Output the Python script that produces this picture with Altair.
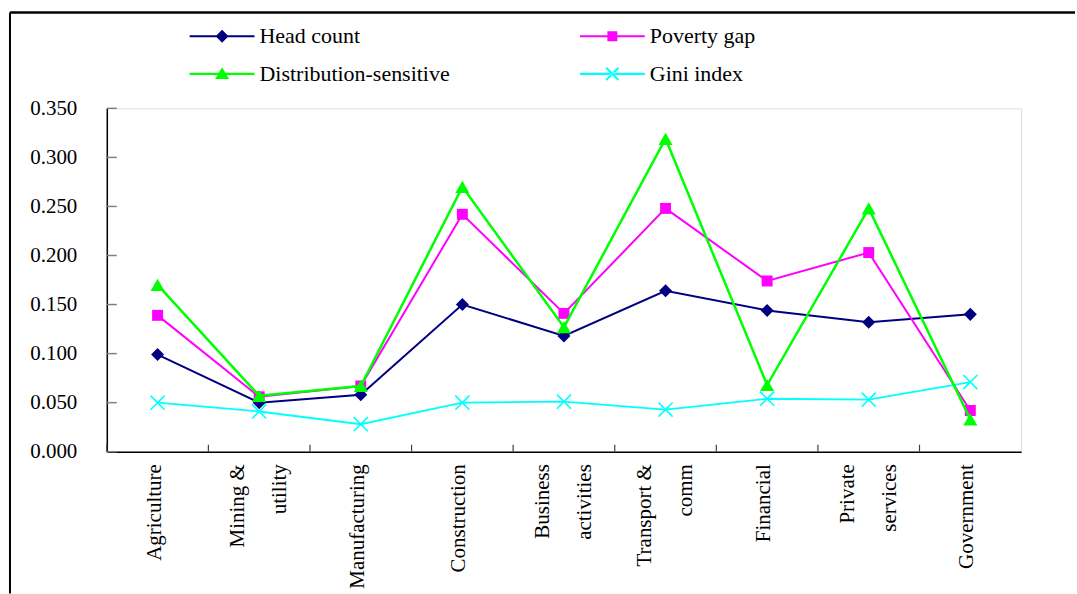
import altair as alt
import pandas as pd

categories = ["Agriculture", "Mining &|utility", "Manufacturing", "Construction",
              "Business|activities", "Transport &|comm", "Financial",
              "Private|services", "Government"]
series_names = ["Head count", "Poverty gap", "Distribution-sensitive", "Gini index"]
head_count = [0.099, 0.050, 0.058, 0.150, 0.118, 0.164, 0.144, 0.132, 0.140]
poverty_gap = [0.139, 0.056, 0.067, 0.242, 0.141, 0.248, 0.174, 0.203, 0.042]
dist_sensitive = [0.170, 0.057, 0.067, 0.270, 0.127, 0.319, 0.068, 0.248, 0.033]
gini_index = [0.050, 0.041, 0.028, 0.050, 0.051, 0.043, 0.054, 0.053, 0.071]
y_ticks = [0.0, 0.05, 0.10, 0.15, 0.20, 0.25, 0.30, 0.35]

colors = ["#000080", "#FF00FF", "#00FF00", "#00FFFF"]
values = [head_count, poverty_gap, dist_sensitive, gini_index]

W, H = 916, 344
FONT = "Liberation Serif"

x_enc = alt.X("cat:N", sort=categories,
              scale=alt.Scale(type="band", paddingInner=0, paddingOuter=0),
              axis=alt.Axis(title=None, labelExpr="split(datum.label, '|')",
                            labelAngle=270, labelAlign="right", labelBaseline="middle",
                            labelPadding=12, labelFont=FONT, labelFontSize=21,
                            labelLineHeight=42, labelColor="black", labelLimit=400,
                            labelOffset={"condition": {"test": "indexof(datum.value, '|') >= 0",
                                                       "value": -21}, "value": -3},
                            ticks=False, domainColor="black", domainWidth=1.5))
y_enc = alt.Y("v:Q", scale=alt.Scale(domain=[0, 0.35], nice=False),
              axis=alt.Axis(title=None, values=y_ticks, format=".3f", grid=False,
                            ticks=False, labelPadding=30, labelFont=FONT,
                            labelFontSize=21, labelColor="black",
                            domainColor="black", domainWidth=1.5))

frames = []
for name, vals in zip(series_names, values):
    frames.append(pd.DataFrame({"cat": categories, "v": vals, "series": name}))
df = pd.concat(frames, ignore_index=True)

def sub(name):
    return alt.Chart(df).transform_filter(alt.datum.series == name)

layers = []
# inward ticks
ytick_df = pd.DataFrame({"v": y_ticks})
layers.append(alt.Chart(ytick_df).mark_rule(color="#808080", strokeWidth=1.5).encode(
    y=alt.Y("v:Q"), x=alt.value(0), x2=alt.value(10)))
xtick_df = pd.DataFrame({"cat": categories})
layers.append(alt.Chart(xtick_df).mark_rule(color="#404040", strokeWidth=1.2).encode(
    x=alt.X("cat:N", sort=categories, bandPosition=0), y=alt.value(H - 7), y2=alt.value(H)))

widths = {"Head count": 2, "Poverty gap": 2, "Distribution-sensitive": 2.5, "Gini index": 1.8}
order = ["Gini index", "Head count", "Poverty gap", "Distribution-sensitive"]
x_path = "M-1,-1L1,1M-1,1L1,-1"
for name in order:
    c = colors[series_names.index(name)]
    layers.append(sub(name).mark_line(color=c, strokeWidth=widths[name]).encode(x=x_enc, y=y_enc))
    if name == "Head count":
        m = sub(name).mark_point(shape="diamond", filled=True, color=c, size=170, opacity=1)
    elif name == "Poverty gap":
        m = sub(name).mark_point(shape="square", filled=True, color=c, size=120, opacity=1)
    elif name == "Distribution-sensitive":
        m = sub(name).mark_point(shape="triangle-up", filled=True, color=c, size=200, opacity=1)
    else:
        m = sub(name).mark_point(shape=x_path, filled=False, color=c, size=200,
                                 strokeWidth=1.6, opacity=1)
    layers.append(m.encode(x=x_enc, y=y_enc))

# legend symbols: line plus marker (unit = 18.5 px)
line_part = "M-1.757,-0.06H1.757V0.06H-1.757Z"
sym = {
    "Head count": line_part + "M0,-0.35L0.35,0L0,0.35L-0.35,0Z",
    "Poverty gap": line_part + "M-0.27,-0.27H0.27V0.27H-0.27Z",
    "Distribution-sensitive": line_part + "M0,-0.36L0.38,0.28L-0.38,0.28Z",
    "Gini index": line_part + "M-0.29,-0.37L0.37,0.29L0.29,0.37L-0.37,-0.29Z"
                  "M-0.29,0.37L0.37,-0.29L0.29,-0.37L-0.37,0.29Z",
}
legend_order = ["Head count", "Distribution-sensitive", "Poverty gap", "Gini index"]
leg = alt.Legend(title=None, orient="none", legendX=97, legendY=-91, columns=2,
                 columnPadding=129, rowPadding=8, labelFont=FONT, labelFontSize=22,
                 labelColor="black", labelOffset=19, symbolSize=1369,
                 symbolStrokeWidth=0, padding=0, labelLimit=400)
legend_layer = alt.Chart(df).transform_filter("false").mark_point(
    filled=True, opacity=1, size=1369, strokeWidth=0).encode(
    color=alt.Color("series:N", scale=alt.Scale(
        domain=legend_order, range=[colors[series_names.index(n)] for n in legend_order]), legend=leg),
    shape=alt.Shape("series:N", scale=alt.Scale(
        domain=legend_order, range=[sym[n] for n in legend_order]), legend=leg),
)
layers.append(legend_layer)

# outer frame lines
frame_df = pd.DataFrame({"k": [0]})
layers.append(alt.Chart(frame_df).mark_rule(color="black", strokeWidth=2).encode(
    x=alt.value(-97), y=alt.value(-96), y2=alt.value(486)))
layers.append(alt.Chart(frame_df).mark_rule(color="black", strokeWidth=2.5).encode(
    x=alt.value(-97), x2=alt.value(970), y=alt.value(-96)))

chart = alt.layer(*layers).properties(
    width=W, height=H,
    padding={"left": 8, "top": 10, "right": 0, "bottom": 0},
).configure_view(stroke="#808080", strokeWidth=2).configure(background="white")

chart.save("out.html", embed_options={"renderer": "svg", "actions": False})
